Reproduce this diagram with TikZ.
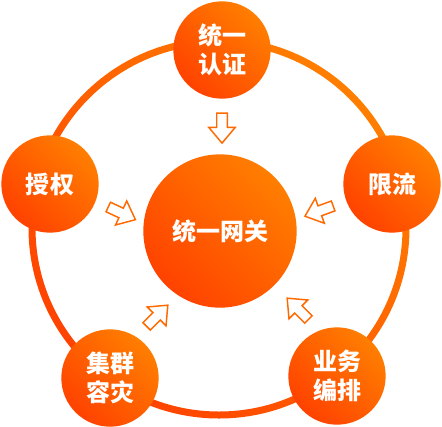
\documentclass[tikz,border=0pt]{standalone}
\usepackage{fontspec}
\newfontfamily\cjk{Noto Sans CJK SC}
\usetikzlibrary{shapes.arrows}
\definecolor{hotorange}{HTML}{FF7E00}
\definecolor{deeporange}{HTML}{FF4200}
\definecolor{arroworange}{HTML}{FF6A00}

\begin{document}
\begin{tikzpicture}[
        x=0.75pt, y=-0.75pt,
        hub/.style={circle, top color=hotorange, bottom color=deeporange, shading angle=-45, minimum size=115pt, inner sep=0pt, text=white, font=\cjk\bfseries\fontsize{18pt}{21.75pt}\selectfont, align=center},
        sat/.style={hub, minimum size=73pt},
        ring/.style={even odd rule, top color=hotorange, bottom color=deeporange, shading angle=-45},
        flow/.style={single arrow, draw=arroworange, line width=1.1pt, fill=white, minimum height=22.5pt, inner sep=3.4pt, single arrow head extend=6pt, single arrow tip angle=80, single arrow head indent=0pt}
    ]
        \useasboundingbox (0,0) rectangle (442,426);
        \shade[ring] (219,228) circle[radius=190.5] (219,228) circle[radius=183.5];
        \node[hub] (gateway) at (220,231) {统一网关};
        \node[sat] (auth) at (222,50) {统一\\认证};
        \node[sat] (grant) at (50,184) {授权};
        \node[sat] (limit) at (392,184) {限流};
        \node[sat] (cluster) at (110,378) {集群\\容灾};
        \node[sat] (orch) at (337,376) {业务\\编排};
        \node[flow, rotate=-90] (authflow) at (222,125) {};
        \node[flow, rotate=-25] (grantflow) at (119,212) {};
        \node[flow, rotate=200] (limitflow) at (322,210) {};
        \node[flow, rotate=45] (clusterflow) at (155,318) {};
        \node[flow, rotate=135] (orchflow) at (300,311) {};
\end{tikzpicture}
\end{document}
